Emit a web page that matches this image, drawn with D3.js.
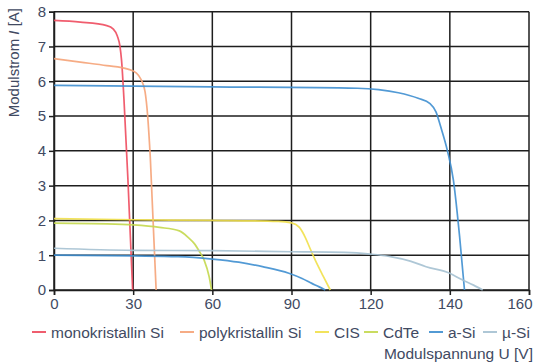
<!DOCTYPE html>
<html>
<head>
<meta charset="utf-8">
<script src="https://cdn.jsdelivr.net/npm/d3@7"></script>
<style>
  html, body { margin: 0; padding: 0; background: #fff; }
  svg text { font-family: "Liberation Sans", Arial, Helvetica, sans-serif; fill: #414a62; }
</style>
</head>
<body>
<svg id="chart" width="535" height="364"></svg>
<script>
// Axis ticks (the voltage axis is divided into equal steps with these labels)
const xTicks = [0, 30, 60, 90, 120, 140, 160];
const yTicks = [0, 1, 2, 3, 4, 5, 6, 7, 8];

// I-U characteristic curves: voltage [V] and current [A]
const monoU = [0, 10, 20, 22.5, 24, 25, 25.6, 26.5, 28, 29.8];
const monoI = [7.75, 7.7, 7.6, 7.5, 7.3, 7.0, 6.6, 5.5, 3.2, 0];

const polyU = [0, 10, 20, 28, 31, 33, 34.5, 35.5, 36.5, 38.7];
const polyI = [6.65, 6.55, 6.45, 6.35, 6.25, 6.05, 5.7, 5.0, 3.8, 0];

const cisU = [0, 30, 60, 85, 90, 93, 95.3, 97, 99, 102, 104.7];
const cisI = [2.05, 2.02, 2.0, 1.97, 1.93, 1.8, 1.5, 1.2, 0.86, 0.4, 0];

const cdteU = [0, 20, 30, 40, 47.5, 51, 53.1, 55, 56.9, 58.8, 59.7];
const cdteI = [1.92, 1.9, 1.87, 1.8, 1.7, 1.5, 1.34, 1.12, 0.86, 0.38, 0];

const aSiU = [0, 60, 115, 122, 127, 132, 135, 136.5, 137.7, 139.4, 140.9, 142.5, 143.7];
const aSiI = [5.88, 5.84, 5.80, 5.76, 5.67, 5.51, 5.36, 5.12, 4.69, 4.0, 3.16, 1.5, 0];

const aSi2U = [0, 30, 47, 60, 70, 79, 89, 94, 97.7, 100.5, 102.8];
const aSi2I = [1.0, 0.98, 0.96, 0.89, 0.8, 0.67, 0.48, 0.33, 0.19, 0.09, 0];

const muSiU = [0, 30, 60, 90, 110, 120, 125, 130, 134, 140, 143, 146, 148.3];
const muSiI = [1.2, 1.14, 1.13, 1.1, 1.08, 1.03, 0.96, 0.83, 0.67, 0.48, 0.3, 0.14, 0];

const series = [
  { name: "monokristallin Si", color: "#ee4b5e", curves: [[monoU, monoI]] },
  { name: "polykristallin Si", color: "#f5a378", curves: [[polyU, polyI]] },
  { name: "CIS",               color: "#f1e04a", curves: [[cisU, cisI]] },
  { name: "CdTe",              color: "#c4d84e", curves: [[cdteU, cdteI]] },
  { name: "a-Si",              color: "#3f8fd0", curves: [[aSiU, aSiI], [aSi2U, aSi2I]] },
  { name: "\u00b5-Si",         color: "#a5c1d2", curves: [[muSiU, muSiI]] }
];

const svg = d3.select("#chart");
const plotL = 54, plotR = 529, plotT = 11.7, plotB = 290;

// piecewise scale: each labelled tick is one equal grid step
const x = d3.scaleLinear()
  .domain(xTicks)
  .range(xTicks.map((d, i) => plotL + i * (plotR - plotL) / (xTicks.length - 1)));
const y = d3.scaleLinear().domain([0, 8]).range([plotB, plotT]);

// grid
const grid = svg.append("g").attr("stroke", "#1e1e1e").attr("stroke-width", 1.5);
grid.selectAll("line.h").data(yTicks).join("line").attr("class", "h")
  .attr("x1", plotL).attr("x2", plotR)
  .attr("y1", d => y(d)).attr("y2", d => y(d));
grid.selectAll("line.v").data(xTicks).join("line").attr("class", "v")
  .attr("y1", plotT).attr("y2", plotB)
  .attr("x1", d => x(d)).attr("x2", d => x(d));

// axes
const xAxis = svg.append("g").attr("transform", `translate(0,${plotB})`)
  .call(d3.axisBottom(x).tickValues(xTicks).tickSize(5).tickPadding(3));
const yAxis = svg.append("g").attr("transform", `translate(${plotL},0)`)
  .call(d3.axisLeft(y).tickValues(yTicks).tickSize(5).tickPadding(3));
[xAxis, yAxis].forEach(a => {
  a.select(".domain").attr("stroke", "#1e1e1e").attr("stroke-width", 1.5);
  a.selectAll(".tick line").attr("stroke", "#1e1e1e").attr("stroke-width", 1.5);
  a.selectAll(".tick text").attr("font-size", 15).attr("fill", "#414a62")
    .attr("font-family", "Liberation Sans, Arial, sans-serif");
});
// last voltage label sits flush with the right edge of the plot
xAxis.selectAll(".tick text").filter(d => d === xTicks[xTicks.length - 1])
  .attr("text-anchor", "end").attr("dx", 3);

// curves
const line = d3.line().x(d => x(d[0])).y(d => y(d[1])).curve(d3.curveMonotoneX);
series.forEach(s => {
  s.curves.forEach(([U, I]) => {
    svg.append("path")
      .datum(U.map((u, i) => [u, I[i]]))
      .attr("fill", "none")
      .attr("stroke", s.color)
      .attr("stroke-width", 1.7)
      .attr("stroke-opacity", 0.9)
      .attr("d", line);
  });
});

// axis titles
svg.append("text")
  .attr("transform", "translate(19,8) rotate(-90)")
  .attr("text-anchor", "end")
  .attr("font-size", 15)
  .html('Modulstrom <tspan font-style="italic">I</tspan> [A]');
svg.append("text")
  .attr("x", 533).attr("y", 359)
  .attr("text-anchor", "end")
  .attr("font-size", 15.5)
  .text("Modulspannung U [V]");

// legend
const legendX = [32, 180, 315, 364, 429, 483];
const lg = svg.append("g");
series.forEach((s, i) => {
  const g = lg.append("g").attr("transform", `translate(${legendX[i]},332)`);
  g.append("line").attr("x1", 0).attr("x2", 14).attr("y1", 0).attr("y2", 0)
    .attr("stroke", s.color).attr("stroke-width", 1.8);
  g.append("text").attr("x", 19).attr("y", 5.5).attr("font-size", 15.5).text(s.name);
});
</script>
</body>
</html>
